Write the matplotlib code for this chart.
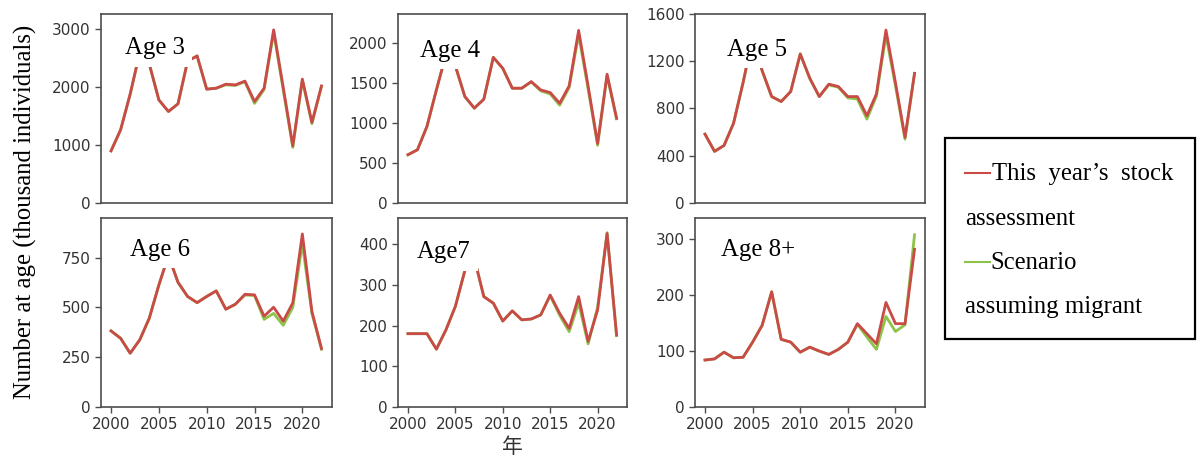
import numpy as np
import matplotlib.pyplot as plt
from matplotlib.patches import Rectangle
from matplotlib.lines import Line2D

years = list(range(2000, 2023))

# this year's stock assessment (thousand individuals)
age3_red = [900, 1264, 1880, 2600, 2400, 1780, 1580, 1713, 2450, 2540, 1966, 1983, 2052, 2040, 2105,
            1753, 1983, 2990, 2000, 988, 2140, 1391, 2022]
age4_red = [602, 664, 954, 1411, 1850, 1710, 1328, 1183, 1295, 1817, 1680, 1432, 1432, 1515, 1411,
            1378, 1245, 1461, 2154, 1460, 743, 1606, 1058]
age5_red = [583, 437, 487, 676, 1020, 1400, 1120, 901, 859, 944, 1262, 1056, 901, 1006, 986,
            901, 901, 739, 923, 1464, 1019, 556, 1098]
age6_red = [382, 345, 270, 337, 446, 613, 760, 626, 555, 524, 555, 583, 491, 516, 566,
            563, 456, 501, 431, 523, 869, 480, 294]
age7_red = [180, 180, 180, 142, 189, 247, 335, 365, 271, 255, 211, 236, 214, 216, 226,
            275, 230, 193, 271, 161, 238, 426, 177]
age8_red = [84, 86, 98, 88, 89, 116, 146, 206, 121, 116, 98, 107, 100, 94, 103,
            116, 149, 131, 113, 187, 149, 149, 282]

# scenario assuming migrant
age3_grn = [900, 1264, 1880, 2600, 2400, 1780, 1580, 1713, 2450, 2540, 1966, 1983, 2040, 2030, 2095,
            1720, 1960, 2950, 1950, 960, 2120, 1370, 2010]
age4_grn = [602, 664, 954, 1411, 1850, 1710, 1328, 1183, 1295, 1817, 1680, 1432, 1432, 1510, 1400,
            1360, 1220, 1440, 2100, 1420, 720, 1590, 1050]
age5_grn = [583, 437, 487, 676, 1020, 1400, 1120, 901, 859, 944, 1262, 1056, 901, 1000, 980,
            890, 880, 710, 905, 1420, 990, 540, 1095]
age6_grn = [382, 345, 270, 337, 446, 613, 760, 626, 555, 524, 555, 583, 491, 516, 562,
            560, 440, 470, 410, 500, 820, 470, 290]
age7_grn = [180, 180, 180, 142, 189, 247, 335, 365, 271, 255, 211, 236, 214, 216, 226,
            273, 225, 185, 255, 155, 245, 428, 175]
age8_grn = [84, 86, 98, 88, 89, 116, 146, 206, 121, 116, 98, 107, 100, 94, 103,
            116, 148, 125, 103, 162, 135, 147, 308]

labels = ['Age 3', 'Age 4', 'Age 5', 'Age 6', 'Age7', 'Age 8+']
red_series = [age3_red, age4_red, age5_red, age6_red, age7_red, age8_red]
grn_series = [age3_grn, age4_grn, age5_grn, age6_grn, age7_grn, age8_grn]
yticks = [[0, 1000, 2000, 3000], [0, 500, 1000, 1500, 2000], [0, 400, 800, 1200, 1600],
          [0, 250, 500, 750], [0, 100, 200, 300, 400], [0, 100, 200, 300]]
ytops = [3264, 2358, 1600, 949, 464, 338]
xticks = [2000, 2005, 2010, 2015, 2020]

RED = '#C94A46'
GRN = '#8DC34A'
GREY = '#333333'
serif = 'Liberation Serif'
fs = 17.85

fig = plt.figure(figsize=(11.98, 4.61), dpi=100)

lefts = [101, 398, 695]
widths = [231, 229, 230]
tops = [14, 218]
label_pos = [(0.104, 0.788), (0.096, 0.774), (0.139, 0.778),
             (0.126, 0.801), (0.083, 0.787), (0.113, 0.801)]

for i in range(6):
    r, c = divmod(i, 3)
    x0 = lefts[c] / 1198
    w = widths[c] / 1198
    y0 = 1 - (tops[r] + 189) / 461
    ax = fig.add_axes([x0, y0, w, 189 / 461])
    ax.plot(years, grn_series[i], color=GRN, lw=2.0, zorder=2)
    ax.plot(years, red_series[i], color=RED, lw=2.0, zorder=3)
    ax.set_xlim(1998.95, 2023.1)
    ax.set_ylim(0, ytops[i])
    ax.set_yticks(yticks[i])
    ax.set_xticks(xticks)
    for s in ax.spines.values():
        s.set_color('#4d4d4d')
        s.set_linewidth(1.2)
    ax.tick_params(axis='both', colors='#4d4d4d', labelcolor=GREY, labelsize=11,
                   length=4.3, width=1.0, pad=3)
    if r == 0:
        ax.tick_params(axis='x', bottom=False, labelbottom=False)
    tx, ty = label_pos[i]
    ax.text(tx, ty, labels[i], transform=ax.transAxes, family=serif, fontsize=fs,
            ha='left', va='baseline', zorder=5,
            bbox=dict(facecolor='white', edgecolor='none', boxstyle='square,pad=0.3'))

fig.text(25 / 1198, 1 - 212 / 461, 'Number at age (thousand individuals)', rotation=90,
         family=serif, fontsize=fs, ha='center', va='center')
fig.text(512 / 1198, 1 - 447 / 461, '年', family=['Noto Sans CJK SC', 'DejaVu Sans'],
         fontsize=15, color=GREY, ha='center', va='center')

# legend box
fig.add_artist(Rectangle((945 / 1198, 1 - 339 / 461), 250 / 1198, 201 / 461,
                         transform=fig.transFigure, facecolor='white', edgecolor='black',
                         linewidth=1.6))
fig.add_artist(Line2D([965 / 1198, 990 / 1198], [1 - 173 / 461] * 2, color=RED, lw=1.5,
                      transform=fig.transFigure))
fig.add_artist(Line2D([965 / 1198, 990 / 1198], [1 - 262 / 461] * 2, color=GRN, lw=1.5,
                      transform=fig.transFigure))
fig.text(992 / 1198, 1 - 180 / 461, 'This  year\u2019s  stock', family=serif, fontsize=fs, va='baseline')
fig.text(965 / 1198, 1 - 225 / 461, 'assessment', family=serif, fontsize=fs, va='baseline')
fig.text(990 / 1198, 1 - 269 / 461, 'Scenario', family=serif, fontsize=fs, va='baseline')
fig.text(965 / 1198, 1 - 313 / 461, 'assuming migrant', family=serif, fontsize=fs, va='baseline')

fig.savefig('out.png', dpi=100)
